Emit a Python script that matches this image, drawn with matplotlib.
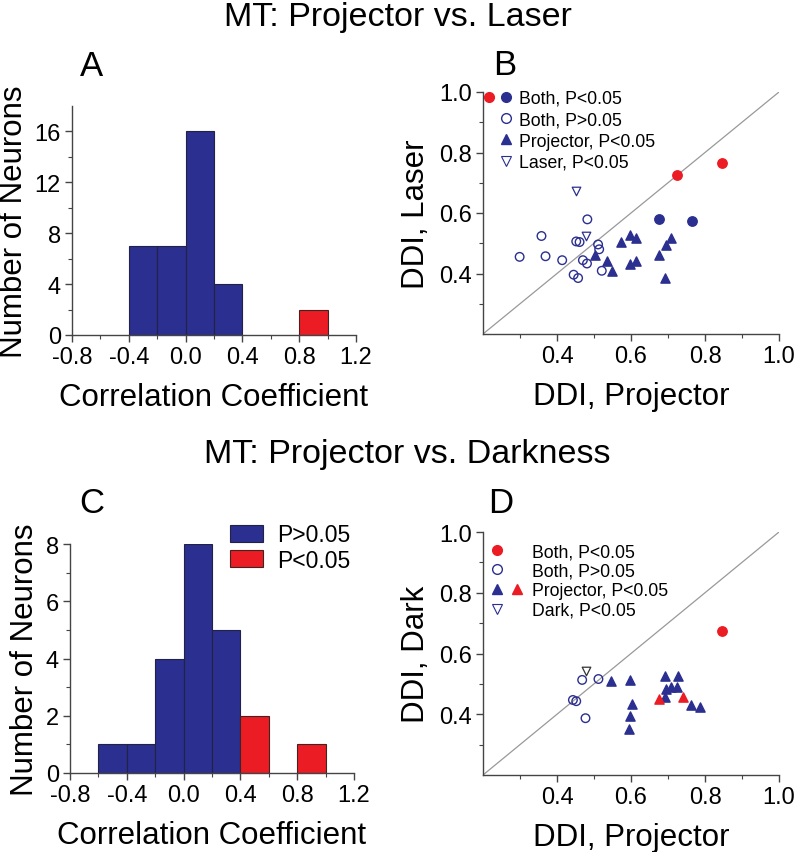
import matplotlib.pyplot as plt
from matplotlib.legend_handler import HandlerTuple
from matplotlib.lines import Line2D

# histogram bins (left edges, width 0.2) and counts
a_blue_left = [-0.4, -0.2, 0.0, 0.2]
a_blue_count = [7, 7, 16, 4]
a_red_left = [0.8]
a_red_count = [2]

c_blue_left = [-0.6, -0.4, -0.2, 0.0, 0.2]
c_blue_count = [1, 1, 4, 8, 5]
c_red_left = [0.4, 0.8]
c_red_count = [2, 1]

# panel B: DDI projector vs laser
b_red_x = [0.724, 0.847]
b_red_y = [0.724, 0.765]
b_blue_x = [0.677, 0.766]
b_blue_y = [0.581, 0.572]
b_open_x = [0.299, 0.358, 0.369, 0.414, 0.445, 0.457, 0.452, 0.461, 0.470, 0.481, 0.482, 0.511, 0.514, 0.521]
b_open_y = [0.455, 0.524, 0.457, 0.444, 0.396, 0.385, 0.506, 0.504, 0.444, 0.433, 0.579, 0.496, 0.480, 0.409]
b_down_x = [0.450, 0.479]
b_down_y = [0.672, 0.524]
b_tri_x = [0.504, 0.535, 0.549, 0.574, 0.596, 0.613, 0.598, 0.614, 0.677, 0.691, 0.694, 0.708]
b_tri_y = [0.460, 0.440, 0.407, 0.504, 0.528, 0.517, 0.433, 0.440, 0.460, 0.385, 0.495, 0.517]

# panel D: DDI projector vs dark
d_red_x = [0.846]
d_red_y = [0.675]
d_open_x = [0.468, 0.512, 0.443, 0.452, 0.477]
d_open_y = [0.513, 0.516, 0.447, 0.443, 0.387]
d_down_x = [0.479]
d_down_y = [0.542]
d_tri_x = [0.547, 0.596, 0.603, 0.598, 0.594, 0.691, 0.727, 0.695, 0.709, 0.723, 0.691, 0.763, 0.787]
d_tri_y = [0.510, 0.514, 0.434, 0.393, 0.352, 0.527, 0.525, 0.484, 0.489, 0.489, 0.458, 0.431, 0.423]
d_redtri_x = [0.677, 0.741]
d_redtri_y = [0.451, 0.458]

BLUE = '#2b2f8f'
RED = '#ec1c24'

plt.rcParams['font.family'] = 'Liberation Sans'

fig = plt.figure(figsize=(7.94, 8.53), dpi=100)
W, H = 794, 853


def axes_px(l, t, r, b):
    return fig.add_axes([l / W, 1 - b / H, (r - l) / W, (b - t) / H])


def style(ax):
    for s in ['top', 'right']:
        ax.spines[s].set_visible(False)
    for s in ['left', 'bottom']:
        ax.spines[s].set_color('#444444')
        ax.spines[s].set_linewidth(1.0)
    ax.tick_params(which='major', length=5, width=1, labelsize=17, color='#444444', direction='out', pad=3)
    ax.tick_params(which='minor', length=3, width=0.8, color='#444444', direction='out')


def hist(ax, bl, bc, rl, rc, ymax, yt, ymin_t):
    ax.bar(bl, bc, width=0.2, align='edge', color=BLUE, edgecolor='#222244', linewidth=0.8, label='P>0.05')
    ax.bar(rl, rc, width=0.2, align='edge', color=RED, edgecolor='#442222', linewidth=0.8, label='P<0.05')
    ax.set_xlim(-0.8, 1.2)
    ax.set_ylim(0, ymax)
    ax.set_xticks([-0.8, -0.4, 0.0, 0.4, 0.8, 1.2])
    ax.set_xticks([-0.6, -0.2, 0.2, 0.6, 1.0], minor=True)
    ax.set_xticklabels(['-0.8', '-0.4', '0.0', '0.4', '0.8', '1.2'])
    ax.set_yticks(yt)
    ax.set_yticks(ymin_t, minor=True)
    style(ax)
    ax.set_xlabel('Correlation Coefficient', fontsize=22.5, labelpad=10)
    ax.set_ylabel('Number of Neurons', fontsize=22.5, labelpad=4)


def scatter_style(ax, ylab):
    ax.plot([0.2, 1.0], [0.2, 1.0], color='#999999', lw=0.9, zorder=1)
    ax.set_xlim(0.2, 1.0)
    ax.set_ylim(0.2, 1.0)
    ax.set_xticks([0.4, 0.6, 0.8, 1.0])
    ax.set_yticks([0.4, 0.6, 0.8, 1.0])
    ax.set_xticks([0.3, 0.5, 0.7, 0.9], minor=True)
    ax.set_yticks([0.3, 0.5, 0.7, 0.9], minor=True)
    style(ax)
    ax.set_xlabel('DDI, Projector', fontsize=22.5, labelpad=10)
    ax.set_ylabel(ylab, fontsize=22.5, labelpad=6)


def mk(marker, **kw):
    return Line2D([], [], ls='', marker=marker, ms=7, **kw)


blank = mk('o', alpha=0)
ms = 38

# Panel A
axA = axes_px(72, 107, 356, 336)
hist(axA, a_blue_left, a_blue_count, a_red_left, a_red_count, 18, [0, 4, 8, 12, 16], [2, 6, 10, 14])

# Panel C
axC = axes_px(70, 545, 354, 774)
hist(axC, c_blue_left, c_blue_count, c_red_left, c_red_count, 8, [0, 2, 4, 6, 8], [1, 3, 5, 7])
axC.legend(loc='upper right', bbox_to_anchor=(1.06, 1.18), frameon=False, fontsize=16.5,
           handlelength=1.45, handleheight=0.8, labelspacing=0.1, handletextpad=0.6)

# Panel B
axB = axes_px(483, 93, 779, 335)
axB.scatter(b_open_x, b_open_y, s=ms, facecolor='none', edgecolor=BLUE, linewidth=1.0, zorder=3)
axB.scatter(b_down_x, b_down_y, s=ms, marker='v', facecolor='white', edgecolor=BLUE, linewidth=0.9, zorder=3)
axB.scatter(b_tri_x, b_tri_y, s=ms + 6, marker='^', color=BLUE, zorder=3)
axB.scatter(b_blue_x, b_blue_y, s=ms + 8, color=BLUE, zorder=3)
axB.scatter(b_red_x, b_red_y, s=ms + 8, color=RED, zorder=3)
scatter_style(axB, 'DDI, Laser')
hb = [
    (mk('o', color=RED), mk('o', color=BLUE)),
    (blank, mk('o', mfc='none', mec=BLUE)),
    (blank, mk('^', color=BLUE)),
    (blank, mk('v', mfc='none', mec=BLUE, mew=0.8)),
]
axB.legend(hb, ['Both, P<0.05', 'Both, P>0.05', 'Projector, P<0.05', 'Laser, P<0.05'],
           handler_map={tuple: HandlerTuple(ndivide=None, pad=0.2)},
           loc='upper left', bbox_to_anchor=(-0.055, 1.075), frameon=False, fontsize=12.7,
           handlelength=1.7, labelspacing=0.25, handletextpad=0.35)

# Panel D
axD = axes_px(483, 533, 779, 776)
axD.scatter(d_open_x, d_open_y, s=ms, facecolor='none', edgecolor=BLUE, linewidth=1.0, zorder=3)
axD.scatter(d_down_x, d_down_y, s=ms, marker='v', facecolor='white', edgecolor='#333333', linewidth=0.9, zorder=3)
axD.scatter(d_tri_x, d_tri_y, s=ms + 6, marker='^', color=BLUE, zorder=3)
axD.scatter(d_redtri_x, d_redtri_y, s=ms + 6, marker='^', color=RED, zorder=4)
axD.scatter(d_red_x, d_red_y, s=ms + 8, color=RED, zorder=3)
scatter_style(axD, 'DDI, Dark')
hd = [
    (mk('o', color=RED), blank),
    (mk('o', mfc='none', mec=BLUE), blank),
    (mk('^', color=BLUE), mk('^', color=RED)),
    (mk('v', mfc='none', mec=BLUE, mew=0.8), blank),
]
axD.legend(hd, ['Both, P<0.05', 'Both, P>0.05', 'Projector, P<0.05', 'Dark, P<0.05'],
           handler_map={tuple: HandlerTuple(ndivide=None, pad=0.4)},
           loc='upper left', bbox_to_anchor=(-0.03, 1.02), frameon=False, fontsize=12.7,
           handlelength=1.9, labelspacing=0.15, handletextpad=0.5)

# titles and panel letters
fig.text(398 / W, 1 - 26 / H, 'MT: Projector vs. Laser', ha='center', va='baseline', fontsize=24.5)
fig.text(407 / W, 1 - 463 / H, 'MT: Projector vs. Darkness', ha='center', va='baseline', fontsize=24.5)
for lab, x, y in [('A', 92, 76), ('B', 505, 75), ('C', 92, 513), ('D', 501, 513)]:
    fig.text(x / W, 1 - y / H, lab, ha='center', va='baseline', fontsize=25)

fig.savefig('out.png', dpi=100)
